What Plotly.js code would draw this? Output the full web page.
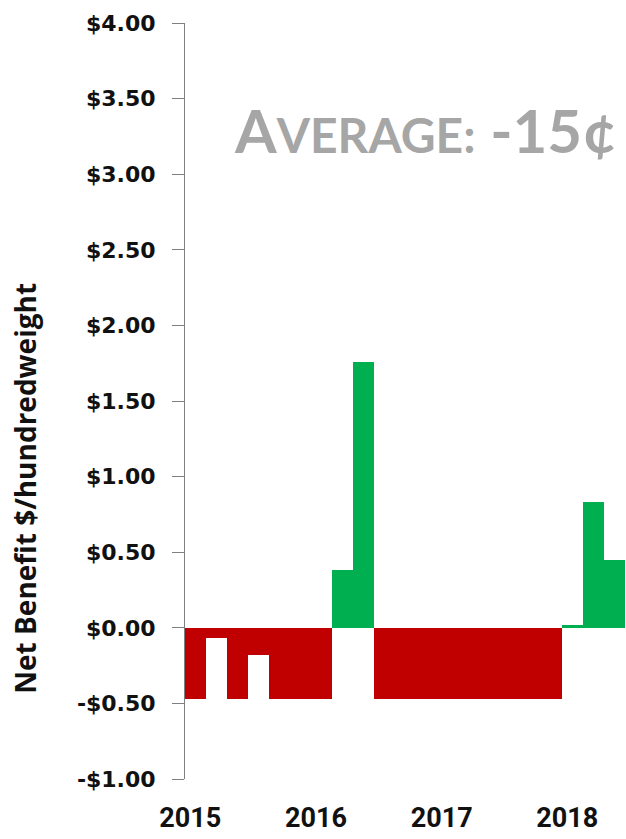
<!DOCTYPE html>
<html>
<head>
<meta charset="utf-8">
<script src="https://cdn.plot.ly/plotly-3.0.1.min.js"></script>
<style>
  html, body { margin: 0; padding: 0; background: #ffffff; }
  #chart { width: 626px; height: 839px; }
</style>
</head>
<body>
<div id="chart"></div>
<script>
// Bimonthly periods starting 2015 (bar index)
const periods = [0, 1, 2, 3, 4, 5, 6, 7, 8, 9, 10, 11, 12, 13, 14, 15, 16, 17, 18, 19, 20];
// Net benefit, $/hundredweight
const netBenefit = [-0.47, -0.07, -0.47, -0.18, -0.47, -0.47, -0.47, 0.38, 1.76,
                    -0.47, -0.47, -0.47, -0.47, -0.47, -0.47, -0.47, -0.47, -0.47,
                    0.02, 0.83, 0.45];
const yearLabels = ["2015", "2016", "2017", "2018"];
const yTickValues = [-1, -0.5, 0, 0.5, 1, 1.5, 2, 2.5, 3, 3.5, 4];
const yTickLabels = ["-$1.00", "-$0.50", "$0.00", "$0.50", "$1.00", "$1.50", "$2.00", "$2.50", "$3.00", "$3.50", "$4.00"];
const averageText = "-15¢";

const RED = "#C00000";
const GREEN = "#00B050";
const yearPositions = [-0.25, 5.75, 11.75, 17.75];

const trace = {
  type: "bar",
  x: periods,
  y: netBenefit,
  marker: { color: netBenefit.map(v => v >= 0 ? GREEN : RED), line: { width: 0 } },
  width: 1,
  hoverinfo: "y"
};

const layout = {
  width: 626,
  height: 839,
  margin: { l: 185, r: 0, t: 23, b: 60 },
  paper_bgcolor: "#ffffff",
  plot_bgcolor: "#ffffff",
  showlegend: false,
  bargap: 0,
  xaxis: {
    range: [-0.5, 20.55],
    showgrid: false,
    zeroline: false,
    showline: false,
    ticks: "",
    tickvals: yearPositions,
    ticktext: yearLabels,
    ticklabelstandoff: 20,
    tickfont: { family: "Roboto, 'Liberation Sans', sans-serif", size: 27, color: "#111111", weight: "bold" }
  },
  yaxis: {
    range: [-1, 4],
    showgrid: false,
    zeroline: false,
    showline: true,
    linecolor: "#7f7f7f",
    linewidth: 1,
    ticks: "outside",
    ticklen: 12,
    tickwidth: 1,
    tickcolor: "#7f7f7f",
    tickvals: yTickValues,
    ticktext: yTickLabels,
    ticklabelstandoff: 12,
    tickfont: { family: "'DejaVu Sans', sans-serif", size: 22, color: "#111111", weight: "bold" }
  },
  annotations: [
    {
      xref: "paper", yref: "paper",
      x: 0.985, y: 0.858,
      xanchor: "right", yanchor: "middle",
      showarrow: false,
      text: "A<span style=\"font-size:48px\">VERAGE:</span> " + averageText,
      font: { family: "Lato, 'Open Sans', sans-serif", size: 60, color: "#a6a6a6", weight: "bold" }
    },
    {
      xref: "paper", yref: "paper",
      x: 0, y: 0.384,
      xanchor: "center", yanchor: "middle",
      xshift: -160,
      textangle: -90,
      showarrow: false,
      text: "Net Benefit $/hundredweight",
      font: { family: "'Open Sans', sans-serif", size: 28, color: "#111111", weight: "bold" }
    }
  ]
};

Plotly.newPlot("chart", [trace], layout, { displayModeBar: false, staticPlot: true });
</script>
</body>
</html>
